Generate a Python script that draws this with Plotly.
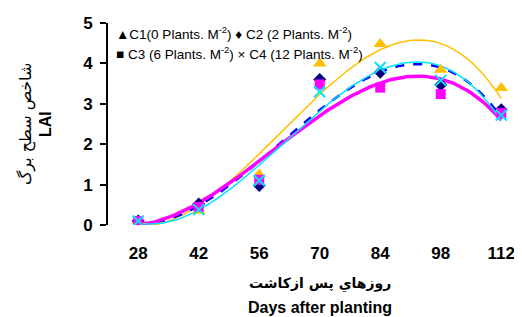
import numpy as np
import plotly.graph_objects as go

days = [28, 42, 56, 70, 84, 98, 112]
day_labels = [str(d) for d in days]

c1 = [0.10, 0.35, 1.25, 4.00, 4.48, 3.84, 3.39]
c2 = [0.10, 0.52, 0.98, 3.60, 3.78, 3.47, 2.85]
c3 = [0.10, 0.45, 1.12, 3.48, 3.40, 3.24, 2.77]
c4 = [0.10, 0.38, 1.10, 3.30, 3.90, 3.58, 2.72]

series = [
    dict(name="C1", y=c1, symbol="triangle-up", mcolor="#FFC000", lcolor="#FFC000", width=1.5, dash="solid", size=12),
    dict(name="C2", y=c2, symbol="diamond", mcolor="#000080", lcolor="#0000FF", width=2.5, dash="dash", size=10),
    dict(name="C3", y=c3, symbol="square", mcolor="#FF00FF", lcolor="#FF00FF", width=3.5, dash="solid", size=10),
    dict(name="C4", y=c4, symbol="x-thin", mcolor="#00E5FF", lcolor="#00E5FF", width=1.5, dash="solid", size=11),
]

idx = np.arange(len(days))
xs = np.linspace(0, len(days) - 1, 120)

fig = go.Figure()
for s in series:
    coef = np.polyfit(idx, s["y"], 3)
    fig.add_trace(go.Scatter(x=xs, y=np.polyval(coef, xs), mode="lines", xaxis="x2",
                             line=dict(color=s["lcolor"], width=s["width"], dash=s["dash"]),
                             showlegend=False, hoverinfo="skip"))
for s in series:
    fig.add_trace(go.Scatter(x=idx, y=s["y"], mode="markers", xaxis="x2",
                             marker=dict(symbol=s["symbol"], color=s["mcolor"], size=s["size"],
                                         line=dict(color=s["mcolor"], width=2 if s["symbol"] == "x-thin" else 0)),
                             showlegend=False))

xr = [-0.5, 6.343]
fig.update_layout(
    width=514, height=309,
    margin=dict(l=100, r=0, t=15, b=92, autoexpand=False),
    plot_bgcolor="white", paper_bgcolor="white",
    font=dict(family="Liberation Sans, Arial", color="black"),
    xaxis=dict(range=xr, tickvals=[i - 0.5 for i in range(8)], showticklabels=False,
               ticks="outside", ticklen=6, tickwidth=1.5, tickcolor="black",
               showline=True, linecolor="black", linewidth=2, mirror=True,
               showgrid=False, zeroline=False, automargin=False),
    xaxis2=dict(range=xr, overlaying="x", tickvals=list(idx), ticktext=day_labels,
                ticks="", showgrid=False, zeroline=False, side="bottom", automargin=False,
                tickfont=dict(size=17, weight="bold"),
                ticklabelstandoff=16),
    yaxis=dict(range=[0, 5], tickvals=[0, 1, 2, 3, 4, 5], ticks="outside", ticklen=6,
               tickwidth=1.5, tickcolor="black", showline=True, linecolor="black",
               linewidth=2, showgrid=False, zeroline=False, automargin=False,
               tickfont=dict(size=17, weight="bold"), ticklabelstandoff=4),
)

bold = "<b>%s</b>"
fig.add_annotation(xref="paper", yref="paper", x=0, y=0.5, xshift=-82, xanchor="center", yanchor="middle",
                   text="شاخص سطح برگ",
                   textangle=-90, showarrow=False, font=dict(size=16, family="DejaVu Sans"))
fig.add_annotation(xref="paper", yref="paper", x=0, y=0.5, xshift=-63, xanchor="center", yanchor="middle",
                   text=bold % "LAI",
                   textangle=-90, showarrow=False, font=dict(size=16))
fig.add_annotation(xref="paper", yref="paper", x=0.512, y=0, yshift=-59, yanchor="middle",
                   text=bold % "روزهاي پس ازکاشت",
                   showarrow=False, font=dict(size=14, family="DejaVu Sans"))
fig.add_annotation(xref="paper", yref="paper", x=0.512, y=0, yshift=-82, yanchor="middle",
                   text=bold % "Days after planting",
                   showarrow=False, font=dict(size=16))

leg1 = "▲C1(0 Plants. M<sup>-2</sup>) ♦ C2 (2 Plants. M<sup>-2</sup>)"
leg2 = "■ C3 (6 Plants. M<sup>-2</sup>) × C4 (12 Plants. M<sup>-2</sup>)"
fig.add_annotation(xref="paper", yref="paper", x=0.015, y=1, yshift=-10, xanchor="left", yanchor="middle",
                   text=leg1, showarrow=False, font=dict(size=13.5))
fig.add_annotation(xref="paper", yref="paper", x=0.015, y=1, yshift=-30, xanchor="left", yanchor="middle",
                   text=leg2, showarrow=False, font=dict(size=13.5))

fig.write_html("out.html")
